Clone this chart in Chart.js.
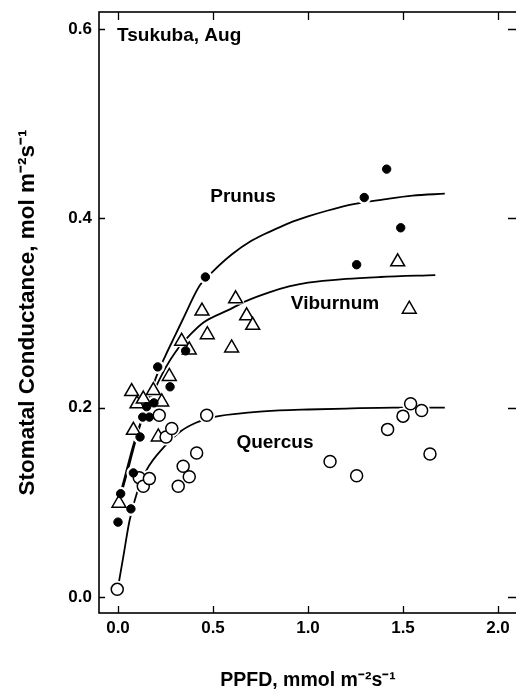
<!DOCTYPE html>
<html><head><meta charset="utf-8">
<script src="https://cdn.jsdelivr.net/npm/chart.js@4"></script>
<style>html,body{margin:0;padding:0;background:#fff;overflow:hidden}canvas{display:block}</style>
</head><body>
<canvas id="c" width="520" height="694"></canvas>
<script>
// ---- tick values ----
const xTickValues = [0, 0.5, 1.0, 1.5, 2.0];
const yTickValues = [0, 0.2, 0.4, 0.6];

// ---- measured points ----
const prunusX = [0.0, 0.014, 0.068, 0.081, 0.116, 0.13, 0.151, 0.165, 0.189, 0.209, 0.274, 0.356, 0.46, 1.256, 1.296, 1.414, 1.488];
const prunusY = [0.079, 0.109, 0.093, 0.131, 0.169, 0.19, 0.201, 0.19, 0.205, 0.243, 0.222, 0.26, 0.338, 0.351, 0.422, 0.452, 0.39];

const viburnumX = [0.005, 0.081, 0.072, 0.10, 0.133, 0.186, 0.23, 0.212, 0.27, 0.335, 0.375, 0.442, 0.47, 0.598, 0.619, 0.677, 0.709, 1.472, 1.533];
const viburnumY = [0.099, 0.176, 0.217, 0.204, 0.209, 0.218, 0.206, 0.169, 0.233, 0.27, 0.261, 0.302, 0.277, 0.263, 0.315, 0.297, 0.287, 0.354, 0.304];

const quercusX = [-0.004, 0.112, 0.133, 0.165, 0.217, 0.253, 0.283, 0.317, 0.343, 0.375, 0.414, 0.467, 1.116, 1.256, 1.419, 1.5, 1.54, 1.598, 1.642];
const quercusY = [0.008, 0.126, 0.117, 0.125, 0.192, 0.169, 0.178, 0.117, 0.138, 0.127, 0.152, 0.192, 0.143, 0.128, 0.177, 0.191, 0.204, 0.197, 0.151];

// ---- fitted curves ----
const prunusCurveX = [0.0, 0.03, 0.06, 0.09, 0.13, 0.17, 0.21, 0.25, 0.3, 0.35, 0.4, 0.43, 0.5, 0.6, 0.7, 0.8, 0.9, 1.0, 1.1, 1.24, 1.4, 1.55, 1.72];
const prunusCurveY = [0.095, 0.118, 0.14, 0.163, 0.19, 0.215, 0.237, 0.255, 0.276, 0.297, 0.318, 0.329, 0.344, 0.362, 0.376, 0.386, 0.395, 0.402, 0.408, 0.415, 0.42, 0.424, 0.426];

const viburnumCurveX = [0.0, 0.04, 0.08, 0.12, 0.16, 0.2, 0.25, 0.3, 0.38, 0.45, 0.58, 0.68, 0.8, 0.9, 1.0, 1.2, 1.38, 1.67];
const viburnumCurveY = [0.1, 0.13, 0.16, 0.185, 0.205, 0.222, 0.242, 0.258, 0.277, 0.29, 0.303, 0.313, 0.322, 0.328, 0.332, 0.336, 0.338, 0.34];

const quercusCurveX = [0.0, 0.03, 0.06, 0.1, 0.15, 0.24, 0.33, 0.41, 0.5, 0.7, 0.85, 1.0, 1.2, 1.45, 1.72];
const quercusCurveY = [0.01, 0.045, 0.08, 0.11, 0.134, 0.158, 0.175, 0.184, 0.19, 0.195, 0.197, 0.198, 0.199, 0.2, 0.2];

// ---- in-plot texts ----
const noteTexts = ['Tsukuba, Aug', 'Prunus', 'Viburnum', 'Quercus'];
const noteX = [-0.005, 0.658, 1.142, 0.826];
const noteY = [0.5926, 0.4225, 0.3095, 0.163];
const noteAlign = ['left', 'center', 'center', 'center'];

const FONT = "'Liberation Sans', Arial, sans-serif";
const pts = (xs, ys) => xs.map((x, i) => ({x: x, y: ys[i]}));

const curve = (xs, ys) => ({
  data: pts(xs, ys), showLine: true, pointRadius: 0, borderColor: '#000', borderWidth: 1.8,
  backgroundColor: '#000', cubicInterpolationMode: 'monotone', order: 6
});
// white halo behind markers, so the fitted lines break around them
const halo = (xs, ys, style, r) => ({
  data: pts(xs, ys), pointStyle: style, pointRadius: r, backgroundColor: '#fff',
  borderColor: '#fff', borderWidth: 2, order: 5
});

const framePlugin = {
  id: 'frame',
  afterDatasetsDraw(chart) {
    const {ctx, chartArea: a, scales: {x, y}} = chart;
    ctx.save();
    ctx.strokeStyle = '#000';
    ctx.lineWidth = 1.6;
    ctx.strokeRect(a.left, a.top, a.right - a.left, a.bottom - a.top);
    ctx.lineWidth = 1.3;
    ctx.beginPath();
    xTickValues.forEach(v => {
      const px = Math.round(x.getPixelForValue(v)) + 0.5;
      ctx.moveTo(px, a.bottom); ctx.lineTo(px, a.bottom - 7);
      ctx.moveTo(px, a.top); ctx.lineTo(px, a.top + 8);
    });
    yTickValues.forEach(v => {
      const py = Math.round(y.getPixelForValue(v)) + 0.5;
      ctx.moveTo(a.left, py); ctx.lineTo(a.left + 6, py);
      ctx.moveTo(a.right, py); ctx.lineTo(a.right - 9, py);
    });
    ctx.stroke();
    ctx.fillStyle = '#000';
    ctx.font = 'bold 19px ' + FONT;
    ctx.textBaseline = 'middle';
    noteTexts.forEach((t, i) => {
      ctx.textAlign = noteAlign[i];
      ctx.fillText(t, x.getPixelForValue(noteX[i]), y.getPixelForValue(noteY[i]));
    });
    ctx.restore();
  }
};

new Chart(document.getElementById('c'), {
  type: 'scatter',
  data: {
    datasets: [
      {label: 'Quercus', data: pts(quercusX, quercusY), pointStyle: 'circle', pointRadius: 6,
       backgroundColor: '#fff', borderColor: '#000', borderWidth: 1.5, order: 1},
      {label: 'Viburnum', data: pts(viburnumX, viburnumY), pointStyle: 'triangle', pointRadius: 8,
       backgroundColor: '#fff', borderColor: '#000', borderWidth: 1.5, order: 2},
      {label: 'Prunus', data: pts(prunusX, prunusY), pointStyle: 'circle', pointRadius: 4.2,
       backgroundColor: '#000', borderColor: '#000', borderWidth: 1, order: 0},
      Object.assign({label: 'Quercus halo'}, halo(quercusX, quercusY, 'circle', 7.5)),
      Object.assign({label: 'Viburnum halo'}, halo(viburnumX, viburnumY, 'triangle', 9.5)),
      Object.assign({label: 'Prunus halo'}, halo(prunusX, prunusY, 'circle', 6)),
      Object.assign({label: 'Prunus fit'}, curve(prunusCurveX, prunusCurveY)),
      Object.assign({label: 'Viburnum fit'}, curve(viburnumCurveX, viburnumCurveY)),
      Object.assign({label: 'Quercus fit'}, curve(quercusCurveX, quercusCurveY))
    ]
  },
  options: {
    responsive: false,
    animation: false,
    layout: {autoPadding: false, padding: {top: 12, right: 3, left: 0, bottom: 0}},
    plugins: {legend: {display: false}, tooltip: {enabled: false}},
    scales: {
      x: {
        type: 'linear', min: -0.1, max: 2.1,
        afterBuildTicks: s => { s.ticks = xTickValues.map(v => ({value: v})); },
        afterFit: s => { s.height = 81; s.paddingLeft = 0; s.paddingRight = 0; },
        grid: {display: false, drawTicks: false},
        border: {display: false},
        ticks: {callback: v => v.toFixed(1), color: '#000', padding: 5, maxRotation: 0, autoSkip: false,
                font: {family: FONT, size: 17, weight: 'bold'}},
        title: {display: true, text: 'PPFD, mmol m\u207B\u00B2s\u207B\u00B9', color: '#000',
                font: {family: FONT, size: 19.5, weight: 'bold'}, padding: {top: 0, bottom: 2}}
      },
      y: {
        type: 'linear', min: -0.017, max: 0.618,
        afterBuildTicks: s => { s.ticks = yTickValues.map(v => ({value: v})); },
        afterFit: s => { s.width = 99; s.paddingTop = 0; s.paddingBottom = 0; },
        grid: {display: false, drawTicks: false},
        border: {display: false},
        ticks: {callback: v => v.toFixed(1), color: '#000', padding: 7,
                font: {family: FONT, size: 17, weight: 'bold'}},
        title: {display: true, text: 'Stomatal Conductance, mol m\u207B\u00B2s\u207B\u00B9', color: '#000',
                font: {family: FONT, size: 22.5, weight: 'bold'}, padding: {top: 14, bottom: 0}}
      }
    }
  },
  plugins: [framePlugin]
});
</script>
</body></html>
